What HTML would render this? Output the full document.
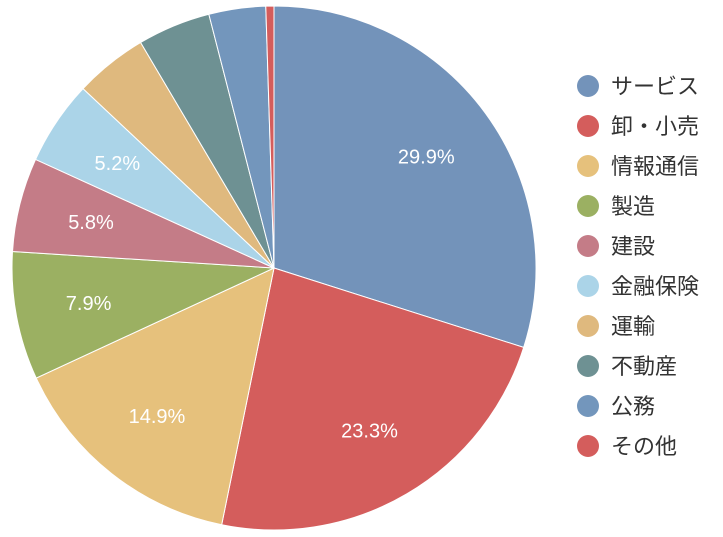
<!DOCTYPE html>
<html><head><meta charset="utf-8"><style>
body{margin:0;background:#fff;}
svg{display:block;font-family:"Liberation Sans","Noto Sans CJK JP",sans-serif;}
</style></head><body>
<svg id="chart" width="723" height="537"></svg>
<script>
const categories=["サービス","卸・小売","情報通信","製造","建設","金融保険","運輸","不動産","公務","その他"];
const values=[29.9,23.3,14.9,7.9,5.8,5.2,4.5,4.5,3.5,0.5];
const colors=["#7393ba","#d45d5c","#e6c17c","#9bb062","#c47c87","#abd4e8","#dfb97e","#6e9193","#7396bc","#d45d5c"];
const svg=document.getElementById('chart');
const NS="http://www.w3.org/2000/svg";
const cx=274,cy=268,R=262;
const total=values.reduce((a,b)=>a+b,0);
let a0=-Math.PI/2;
function pt(a,r){return [cx+r*Math.cos(a),cy+r*Math.sin(a)];}
values.forEach((v,i)=>{
  const a1=a0+v/total*2*Math.PI;
  const p0=pt(a0,R),p1=pt(a1,R);
  const large=(a1-a0)>Math.PI?1:0;
  const path=document.createElementNS(NS,'path');
  path.setAttribute('d',`M${cx},${cy}L${p0[0]},${p0[1]}A${R},${R} 0 ${large} 1 ${p1[0]},${p1[1]}Z`);
  path.setAttribute('fill',colors[i]);
  path.setAttribute('stroke','#fff');
  path.setAttribute('stroke-width','1');
  
  
  svg.appendChild(path);
  if(v>=5){
    const am=(a0+a1)/2;const lp=pt(am,R*0.72);
    const t=document.createElementNS(NS,'text');
    t.setAttribute('x',lp[0]);t.setAttribute('y',lp[1]+7);
    t.setAttribute('text-anchor','middle');t.setAttribute('fill','#fff');
    t.setAttribute('font-size','20');
    t.textContent=v.toFixed(1)+'%';
    
    
    svg.appendChild(t);
  }
  a0=a1;
});
categories.forEach((c,i)=>{
  const y=86+i*40;
  const g=document.createElementNS(NS,'g');
  
  
  const ci=document.createElementNS(NS,'circle');
  ci.setAttribute('cx',588);ci.setAttribute('cy',y);ci.setAttribute('r',11);
  ci.setAttribute('fill',colors[i]);
  g.appendChild(ci);
  const t=document.createElementNS(NS,'text');
  t.setAttribute('x',611);t.setAttribute('y',y+8);
  t.setAttribute('font-size','22');t.setAttribute('fill','#333');
  t.textContent=c;
  g.appendChild(t);
  svg.appendChild(g);
});
</script>
</body></html>
